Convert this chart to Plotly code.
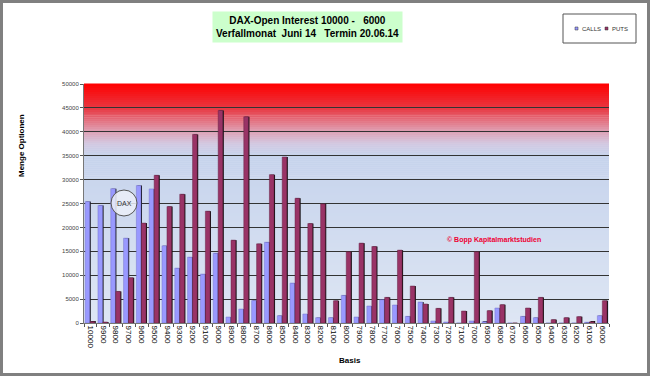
import plotly.graph_objects as go

strikes = [str(s) for s in range(10000, 5999, -100)]
calls = [25400, 24600, 28100, 17750, 28750, 28050, 16150, 11480, 13780, 10230,
         14600, 1250, 2920, 4700, 16900, 1530, 8350, 1880, 1110, 1110,
         5780, 1250, 3550, 4870, 3760, 1390, 4380, 420, 200, 0,
         420, 280, 3130, 0, 1390, 1110, 0, 0, 0, 150, 1530]
puts = [300, 200, 6600, 9470, 20900, 30900, 24360, 26940, 39460, 23390,
        44470, 17330, 43150, 16560, 31040, 34730, 26100, 20810, 24920, 4660,
        14900, 16700, 16000, 5360, 15240, 7730, 3970, 3060, 5360, 2500,
        14900, 2580, 3830, 0, 3130, 5360, 700, 1110, 1320, 250, 4660]
y_ticks = list(range(0, 50001, 5000))
series_names = ["CALLS", "PUTS"]
series_colors = ["#9999FF", "#993366"]

fig = go.Figure()
W = 0.36
fig.add_trace(go.Bar(x=strikes, y=calls, width=W, offset=-0.33, marker_color="#111111",
                     marker_line_width=0, showlegend=False, hoverinfo="skip"))
fig.add_trace(go.Bar(x=strikes, y=calls, width=W, offset=-0.41, name=series_names[0],
                     showlegend=False,
                     marker=dict(color=series_colors[0], line=dict(color="#7777CC", width=0.5))))
fig.add_trace(go.Bar(x=strikes, y=puts, width=W, offset=0.06, marker_color="#111111",
                     marker_line_width=0, showlegend=False, hoverinfo="skip"))
fig.add_trace(go.Bar(x=strikes, y=puts, width=W, offset=-0.02, name=series_names[1],
                     showlegend=False,
                     marker=dict(color=series_colors[1], line=dict(color="#662244", width=0.5))))

L, R, T, B = 84, 41, 84, 53
PW, PH = 650 - L - R, 376 - T - B
def px(xp):
    return (xp - L) / PW
def py(yp):
    return (323 - yp) / PH

# gradient background stripes
def lerp(c1, c2, t):
    return tuple(round(a + (b - a) * t) for a, b in zip(c1, c2))
stops = [(0.0, (222, 230, 244)), (0.70, (198, 211, 236)), (0.75, (210, 200, 225)),
         (0.80, (222, 160, 180)), (0.90, (232, 55, 65)), (1.0, (255, 0, 0))]
shapes = []
N = 120
for i in range(N):
    y0 = i / N
    y1 = (i + 1) / N
    ym = (y0 + y1) / 2
    for j in range(len(stops) - 1):
        if stops[j][0] <= ym <= stops[j + 1][0]:
            t = (ym - stops[j][0]) / (stops[j + 1][0] - stops[j][0])
            c = lerp(stops[j][1], stops[j + 1][1], t)
            break
    shapes.append(dict(type="rect", xref="paper", yref="paper", x0=0, x1=1, y0=y0, y1=y1 + 0.002,
                       fillcolor="rgb(%d,%d,%d)" % c, line_width=0, layer="below"))
# outer frame
shapes.append(dict(type="rect", xref="paper", yref="paper",
                   x0=px(1.5), x1=px(648.5), y0=py(374.5), y1=py(1.5),
                   line=dict(color="#808080", width=3), fillcolor="rgba(0,0,0,0)", layer="above"))
# DAX circle
cx, cy, r = px(124), py(203), 13
shapes.append(dict(type="circle", xref="paper", yref="paper",
                   x0=cx - r / PW, x1=cx + r / PW, y0=cy - r / PH, y1=cy + r / PH,
                   fillcolor="rgba(235,238,248,0.85)", line=dict(color="#555555", width=1), layer="above"))
# legend box
shapes.append(dict(type="rect", xref="paper", yref="paper",
                   x0=px(563), x1=px(636), y0=py(43), y1=py(14),
                   line=dict(color="#555555", width=1), fillcolor="#FFFFFF", layer="above"))
leg_x = [575, 605]
for k in range(2):
    shapes.append(dict(type="rect", xref="paper", yref="paper",
                       x0=px(leg_x[k]), x1=px(leg_x[k] + 3), y0=py(30), y1=py(27),
                       line=dict(color="#333333", width=0.5), fillcolor=series_colors[k], layer="above"))

annotations = [
    dict(text="<b>DAX-Open Interest 10000 -   6000<br>Verfallmonat  Juni 14   Termin 20.06.14</b>",
         xref="paper", yref="paper", x=px(307), y=py(27), showarrow=False,
         font=dict(family="Liberation Sans, Arial", size=10, color="#000000"),
         bgcolor="#CCFFCC", borderpad=3, xanchor="center", yanchor="middle"),
    dict(text="DAX", xref="paper", yref="paper", x=cx, y=cy, showarrow=False,
         xanchor="center", yanchor="middle",
         font=dict(family="Liberation Sans, Arial", size=7, color="#333333")),
    dict(text="<b>© Bopp Kapitalmarktstudien</b>", xref="paper", yref="paper",
         x=px(494), y=py(240), showarrow=False, xanchor="center", yanchor="middle",
         font=dict(family="Liberation Sans, Arial", size=7, color="#EE0033")),
    dict(text="<b>Menge Optionen</b>", xref="paper", yref="paper", x=px(21),
         y=py(146), showarrow=False, textangle=-90, xanchor="center", yanchor="middle",
         font=dict(family="Liberation Sans, Arial", size=8, color="#000000")),
    dict(text="<b>Basis</b>", xref="paper", yref="paper", x=px(350),
         y=py(360), showarrow=False, xanchor="center", yanchor="middle",
         font=dict(family="Liberation Sans, Arial", size=8, color="#000000")),
]
for k in range(2):
    annotations.append(dict(text=series_names[k], xref="paper", yref="paper",
                            x=px(leg_x[k] + 5), y=py(28.5), xanchor="left", yanchor="middle",
                            showarrow=False,
                            font=dict(family="Liberation Sans, Arial", size=6, color="#333333")))

fig.update_layout(
    width=650, height=376,
    margin=dict(l=L, r=R, t=T, b=B, autoexpand=False),
    paper_bgcolor="#FFFFFF", plot_bgcolor="rgba(0,0,0,0)",
    barmode="overlay", bargap=0.2, showlegend=False,
    shapes=shapes, annotations=annotations,
    font=dict(family="Liberation Sans, Arial"),
)
fig.update_xaxes(type="category", tickangle=90, tickfont=dict(size=8, color="#000000"),
                 ticks="outside", ticklen=3, tickson="boundaries", tickcolor="#555555",
                 showline=True, linecolor="#777777", showgrid=False)
fig.update_yaxes(range=[0, 50000], tickvals=y_ticks, tickformat="d",
                 tickfont=dict(size=6, color="#444444"),
                 ticks="outside", ticklen=3, tickcolor="#555555",
                 showline=True, linecolor="#777777", gridcolor="#333333", gridwidth=0.7,
                 zeroline=False)
fig.write_html("out.html", config={"displayModeBar": False},
               post_script="document.body.style.margin='0';document.body.style.overflow='hidden';")
